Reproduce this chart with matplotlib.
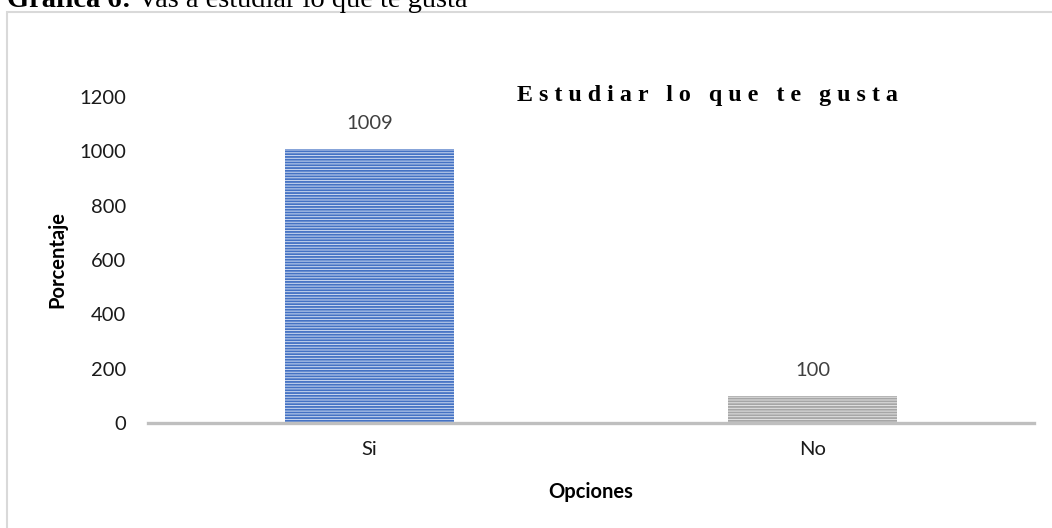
import matplotlib
matplotlib.use('Agg')
import matplotlib.pyplot as plt
from matplotlib.patches import Rectangle

# data
opciones = ['Si', 'No']
valores = [1009, 100]
colores = ['#cfdbf1', '#e4e4e4']
rayas = ['#4472c4', '#a6a6a6']
yticks = [0, 200, 400, 600, 800, 1000, 1200]

caption_bold = 'Gráfica 6:'
caption_rest = ' Vas a estudiar lo que te gusta'
titulo = 'Estudiar lo que te gusta'

W, H = 1052, 528
plt.rcParams['hatch.linewidth'] = 1.3
fig = plt.figure(figsize=(W / 100, H / 100), dpi=100)

# grey frame of the chart (only left/top visible)
fig.patches.append(Rectangle((7 / W, -0.05), 1.1, 1 - 12 / H + 0.05, transform=fig.transFigure,
                             fill=False, edgecolor='#d9d9d9', linewidth=1.5, zorder=0))

ax = fig.add_axes([148 / W, 1 - 423 / H, 886 / W, 326 / H])
x = range(len(opciones))
bars = ax.bar(x, valores, width=0.38, color=colores, edgecolor=rayas,
              linewidth=0, hatch='------', zorder=2)

for b, v in zip(bars, valores):
    ax.annotate(str(v), (b.get_x() + b.get_width() / 2, v), xytext=(0, 18),
                textcoords='offset points', ha='center', va='center',
                fontsize=14.5, family='Lato', color='#404040')

ax.set_xlim(-0.5, 1.5)
ax.set_ylim(0, 1200)
ax.set_yticks(yticks)
ax.set_xticks(list(x))
ax.set_xticklabels(opciones)
for s in ['top', 'right', 'left']:
    ax.spines[s].set_visible(False)
ax.spines['bottom'].set_color('#bfbfbf')
ax.spines['bottom'].set_linewidth(2.4)
ax.tick_params(axis='y', length=0, pad=16, labelsize=14.5, labelcolor='#1a1a1a')
ax.tick_params(axis='x', length=0, pad=13, labelsize=14.5, labelcolor='#1a1a1a')
for lab in ax.get_xticklabels() + ax.get_yticklabels():
    lab.set_family('Lato')

ax.set_ylabel('Porcentaje', fontsize=14.5, family='Lato', fontweight='bold', va='center')
ax.yaxis.set_label_coords((57 - 148) / 886, 0.5)
ax.set_xlabel('Opciones', fontsize=14.5, family='Lato', fontweight='bold', va='center')
ax.xaxis.set_label_coords(0.5, (423 - 492) / 326)

# chart title, spaced letters like the original
espaciado = '   '.join(' '.join(p) for p in titulo.split(' '))
fig.text(517 / W, 1 - 101 / H, espaciado, fontsize=17.3, fontweight='bold',
         family=['Liberation Serif', 'DejaVu Serif'], ha='left', va='baseline')

# document caption, cut at the top edge
t1 = fig.text(7 / W, 1 - 7 / H, caption_bold, fontsize=20.5, fontweight='bold',
              family=['Liberation Serif', 'DejaVu Serif'], ha='left', va='baseline')
r = fig.canvas.get_renderer()
bb = t1.get_window_extent(r)
fig.text(bb.x1 / W, 1 - 7 / H, caption_rest, fontsize=20.5,
         family=['Liberation Serif', 'DejaVu Serif'], ha='left', va='baseline')

fig.savefig('out.png', dpi=100)
